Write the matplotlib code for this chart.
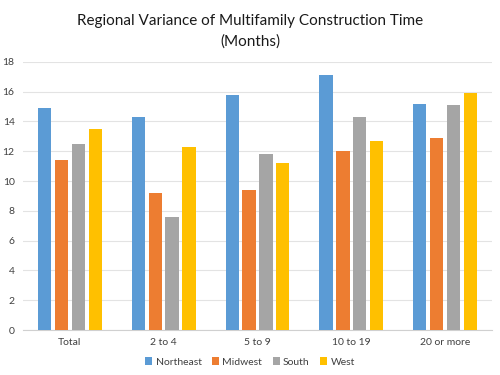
import numpy as np
import matplotlib
matplotlib.use("Agg")
import matplotlib.pyplot as plt

categories = ["Total", "2 to 4", "5 to 9", "10 to 19", "20 or more"]
northeast = [14.9, 14.3, 15.8, 17.1, 15.2]
midwest = [11.4, 9.2, 9.4, 12.0, 12.9]
south = [12.5, 7.6, 11.8, 14.3, 15.1]
west = [13.5, 12.3, 11.2, 12.7, 15.9]
series_names = ["Northeast", "Midwest", "South", "West"]
colors = ["#5B9BD5", "#ED7D31", "#A5A5A5", "#FFC000"]

plt.rcParams['font.family'] = ['Lato', 'DejaVu Sans']

fig = plt.figure(figsize=(5, 3.75), dpi=100)
ax = fig.add_axes([0.046, 0.12, 0.938, 0.715])

x = np.arange(len(categories))
step = 0.18
width = 0.142
for i, (vals, name, c) in enumerate(zip([northeast, midwest, south, west], series_names, colors)):
    ax.bar(x + (i - 1.5) * step, vals, width=width, color=c, label=name, zorder=3)

ax.set_xlim(-0.5, 4.5)
ax.set_ylim(0, 18)
ax.set_yticks(range(0, 19, 2))
ax.set_xticks(x)
ax.set_xticklabels(categories)
ax.tick_params(axis='both', length=0, labelsize=7.5, colors="#404040", pad=6)
ax.grid(axis='y', color="#E3E3E3", linewidth=0.8, zorder=0)
for s in ["top", "right", "left"]:
    ax.spines[s].set_visible(False)
ax.spines["bottom"].set_color("#D0D0D0")

fig.text(0.5, 0.917, "Regional Variance of Multifamily Construction Time\n(Months)",
         ha="center", va="center", fontsize=11, color="#1a1a1a", linespacing=1.55)

fig.legend(loc="center", bbox_to_anchor=(0.5, 0.035), ncol=4, frameon=False,
           fontsize=7.5, handlelength=0.7, handleheight=0.7, handletextpad=0.3,
           columnspacing=1.0, labelcolor="#404040")

fig.savefig("out.png", dpi=100)
